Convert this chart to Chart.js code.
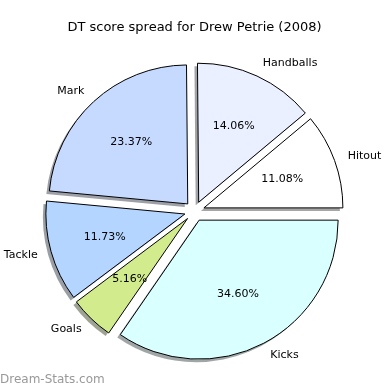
<!DOCTYPE html>
<html><head><meta charset="utf-8">
<script src="https://cdn.jsdelivr.net/npm/chart.js@4.4.1/dist/chart.umd.min.js"></script>
<style>html,body{margin:0;padding:0;background:#fff;}#wrap{width:390px;height:390px;position:relative;}</style>
</head><body><div id="wrap"><canvas id="c" width="390" height="390"></canvas></div>
<script>
// Slices in clockwise screen order starting at 3 o'clock
const categories = ['Kicks', 'Goals', 'Tackle', 'Mark', 'Handballs', 'Hitout'];
const values = [34.60, 5.16, 11.73, 23.37, 14.06, 11.08];
const sliceColors = ['#d9ffff', '#d2eb8c', '#b4d5ff', '#c6d9ff', '#eaf0ff', '#ffffff'];
const titleText = 'DT score spread for Drew Petrie (2008)';
const watermarkText = 'Dream-Stats.com';

const EXPLODE = 10;
const SHADOW_DX = -3, SHADOW_DY = 3;
const LABEL_DIST = 1.1, PCT_DIST = 0.6;
const FONT = "'DejaVu Sans', sans-serif";

function shadowColor(hex) {
  const r = parseInt(hex.slice(1, 3), 16), g = parseInt(hex.slice(3, 5), 16), b = parseInt(hex.slice(5, 7), 16);
  return `rgba(${Math.round(r * 0.3)},${Math.round(g * 0.3)},${Math.round(b * 0.3)},0.5)`;
}

const piePlugin = {
  id: 'explodedPie',
  beforeDatasetDraw(chart, args) {
    const ctx = chart.ctx;
    const arcs = args.meta.data;
    arcs.forEach((arc, i) => {
      const p = arc.getProps(['x', 'y', 'startAngle', 'endAngle', 'outerRadius'], true);
      const mid = (p.startAngle + p.endAngle) / 2;
      const ox = p.x + Math.cos(mid) * EXPLODE + SHADOW_DX;
      const oy = p.y + Math.sin(mid) * EXPLODE + SHADOW_DY;
      ctx.save();
      ctx.beginPath();
      ctx.moveTo(ox, oy);
      ctx.arc(ox, oy, p.outerRadius, p.startAngle, p.endAngle);
      ctx.closePath();
      ctx.fillStyle = shadowColor(sliceColors[i]);
      ctx.fill();
      ctx.restore();
    });
    arcs.forEach((arc) => {
      const p = arc.getProps(['startAngle', 'endAngle'], true);
      const mid = (p.startAngle + p.endAngle) / 2;
      ctx.save();
      ctx.translate(Math.cos(mid) * EXPLODE, Math.sin(mid) * EXPLODE);
      arc.draw(ctx);
      ctx.restore();
    });
    return false;
  },
  afterDraw(chart) {
    const ctx = chart.ctx;
    const meta = chart.getDatasetMeta(0);
    const total = values.reduce((a, b) => a + b, 0);
    ctx.save();
    ctx.font = `11px ${FONT}`;
    ctx.fillStyle = '#000';
    ctx.textBaseline = 'middle';
    meta.data.forEach((arc, i) => {
      const p = arc.getProps(['x', 'y', 'startAngle', 'endAngle', 'outerRadius'], true);
      const mid = (p.startAngle + p.endAngle) / 2;
      const c = Math.cos(mid), s = Math.sin(mid);
      const lr = EXPLODE + LABEL_DIST * p.outerRadius;
      ctx.textAlign = c > 0 ? 'left' : 'right';
      ctx.fillText(categories[i], p.x + c * lr, p.y + s * lr);
      const pr = EXPLODE + PCT_DIST * p.outerRadius;
      ctx.textAlign = 'center';
      ctx.fillText((values[i] / total * 100).toFixed(2) + '%', p.x + c * pr, p.y + s * pr);
    });
    ctx.font = `12px ${FONT}`;
    ctx.fillStyle = '#999999';
    ctx.textAlign = 'left';
    ctx.fillText(watermarkText, 0, 380);
    ctx.restore();
  }
};

new Chart(document.getElementById('c'), {
  type: 'pie',
  data: {
    labels: categories,
    datasets: [{
      data: values,
      backgroundColor: sliceColors,
      borderColor: '#000000',
      borderWidth: 1,
      borderJoinStyle: 'miter',
      offset: 0,
      clip: false
    }]
  },
  options: {
    responsive: false,
    animation: false,
    devicePixelRatio: 1,
    rotation: 90,
    radius: 139,
    layout: { padding: { left: 2, right: 3, top: 0, bottom: 3 } },
    plugins: {
      legend: { display: false },
      tooltip: { enabled: false },
      title: {
        display: true,
        text: titleText,
        color: '#000',
        font: { family: FONT, size: 13, weight: 'normal' },
        padding: { top: 20, bottom: 0 }
      }
    },
    events: []
  },
  plugins: [piePlugin]
});
</script>
</body></html>
